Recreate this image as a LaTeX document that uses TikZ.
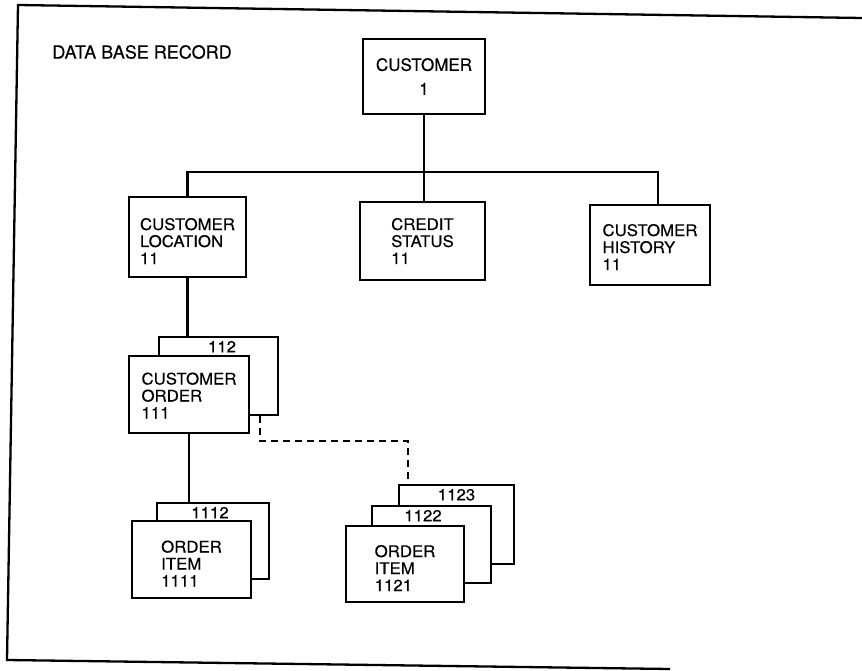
\documentclass[tikz,border=0pt]{standalone}
\usepackage{fontspec}
\setmainfont{TeX Gyre Heros}[FakeBold=0.4]
\newfontfamily\widefont[FakeStretch=1.05,FakeBold=0.4]{TeX Gyre Heros}
\newcommand\upgap{\rule{0pt}{20pt}}
\begin{document}
\begin{tikzpicture}[x=1pt,y=-1pt,line width=2.3pt,
  rec/.style={draw,fill=white,align=left,inner sep=0pt,minimum width=119,minimum height=78,
    font=\widefont\fontsize{16}{17}\selectfont},
  num/.style={anchor=north,inner sep=4pt,font=\widefont\fontsize{16}{17}\selectfont},
  dashline/.style={dash pattern=on 7pt off 5pt}]
\useasboundingbox (0,0) rectangle (862,671);
\draw (862,18) -- (18,5) -- (7,660) -- (670,669);
\node[font=\fontsize{18}{20}\selectfont] (ttl) at (142,52) {DATA BASE RECORD};
% root and first level
\node[rec,align=center,minimum width=122,minimum height=75,font=\fontsize{17}{24}\selectfont] (cust) at (424,76.5) {CUSTOMER\\1};
\node[rec,minimum width=117,minimum height=80] (loc) at (187.5,237) {\upgap CUSTOMER\\LOCATION\\11};
\node[rec,minimum width=125] (credit) at (422.5,241) {CREDIT\\STATUS\\11};
\node[rec,minimum width=120,minimum height=80] (hist) at (650,245) {\rule{0pt}{16pt}CUSTOMER\\HISTORY\\11};
\coordinate (bus) at (424,172);
\draw (cust.south) -- (cust.south |- credit.north);
\draw (loc.north) |- (bus) -| ([xshift=8]hist.north);
% customer orders
\node[rec,label={[num,xshift=3.5]north:112}] (ordB) at (218.5,376) {};
\node[rec,minimum width=120,minimum height=77] (ord) at (189,394.5) {\rule{0pt}{14pt}CUSTOMER\\ORDER\\111};
\draw (loc.south) -- (loc.south |- ordB.north);
% order items
\node[rec,minimum width=112,minimum height=76,label={[num,xshift=-3]north:1112}] (itemB) at (213,541) {};
\node[rec,minimum width=119,minimum height=77] (item) at (191.5,559.5) {\upgap ORDER\\ITEM\\1111};
\draw (ord.south) -- (ord.south |- itemB.north);
\node[rec,minimum width=115,minimum height=79,label={[num]north:1123}] (itemC) at (456.5,524.5) {};
\node[rec,minimum height=77,label={[num,xshift=-8.5]north:1122}] (itemD) at (431.5,544.5) {};
\node[rec,minimum width=118,minimum height=76] (itemA) at (405,564) {\upgap ORDER\\ITEM\\1121};
\coordinate (dbend) at (408,441);
\draw[dashline] ([xshift=41.5]ordB.south) |- (dbend) -- (dbend |- itemC.north);
\end{tikzpicture}
\end{document}
